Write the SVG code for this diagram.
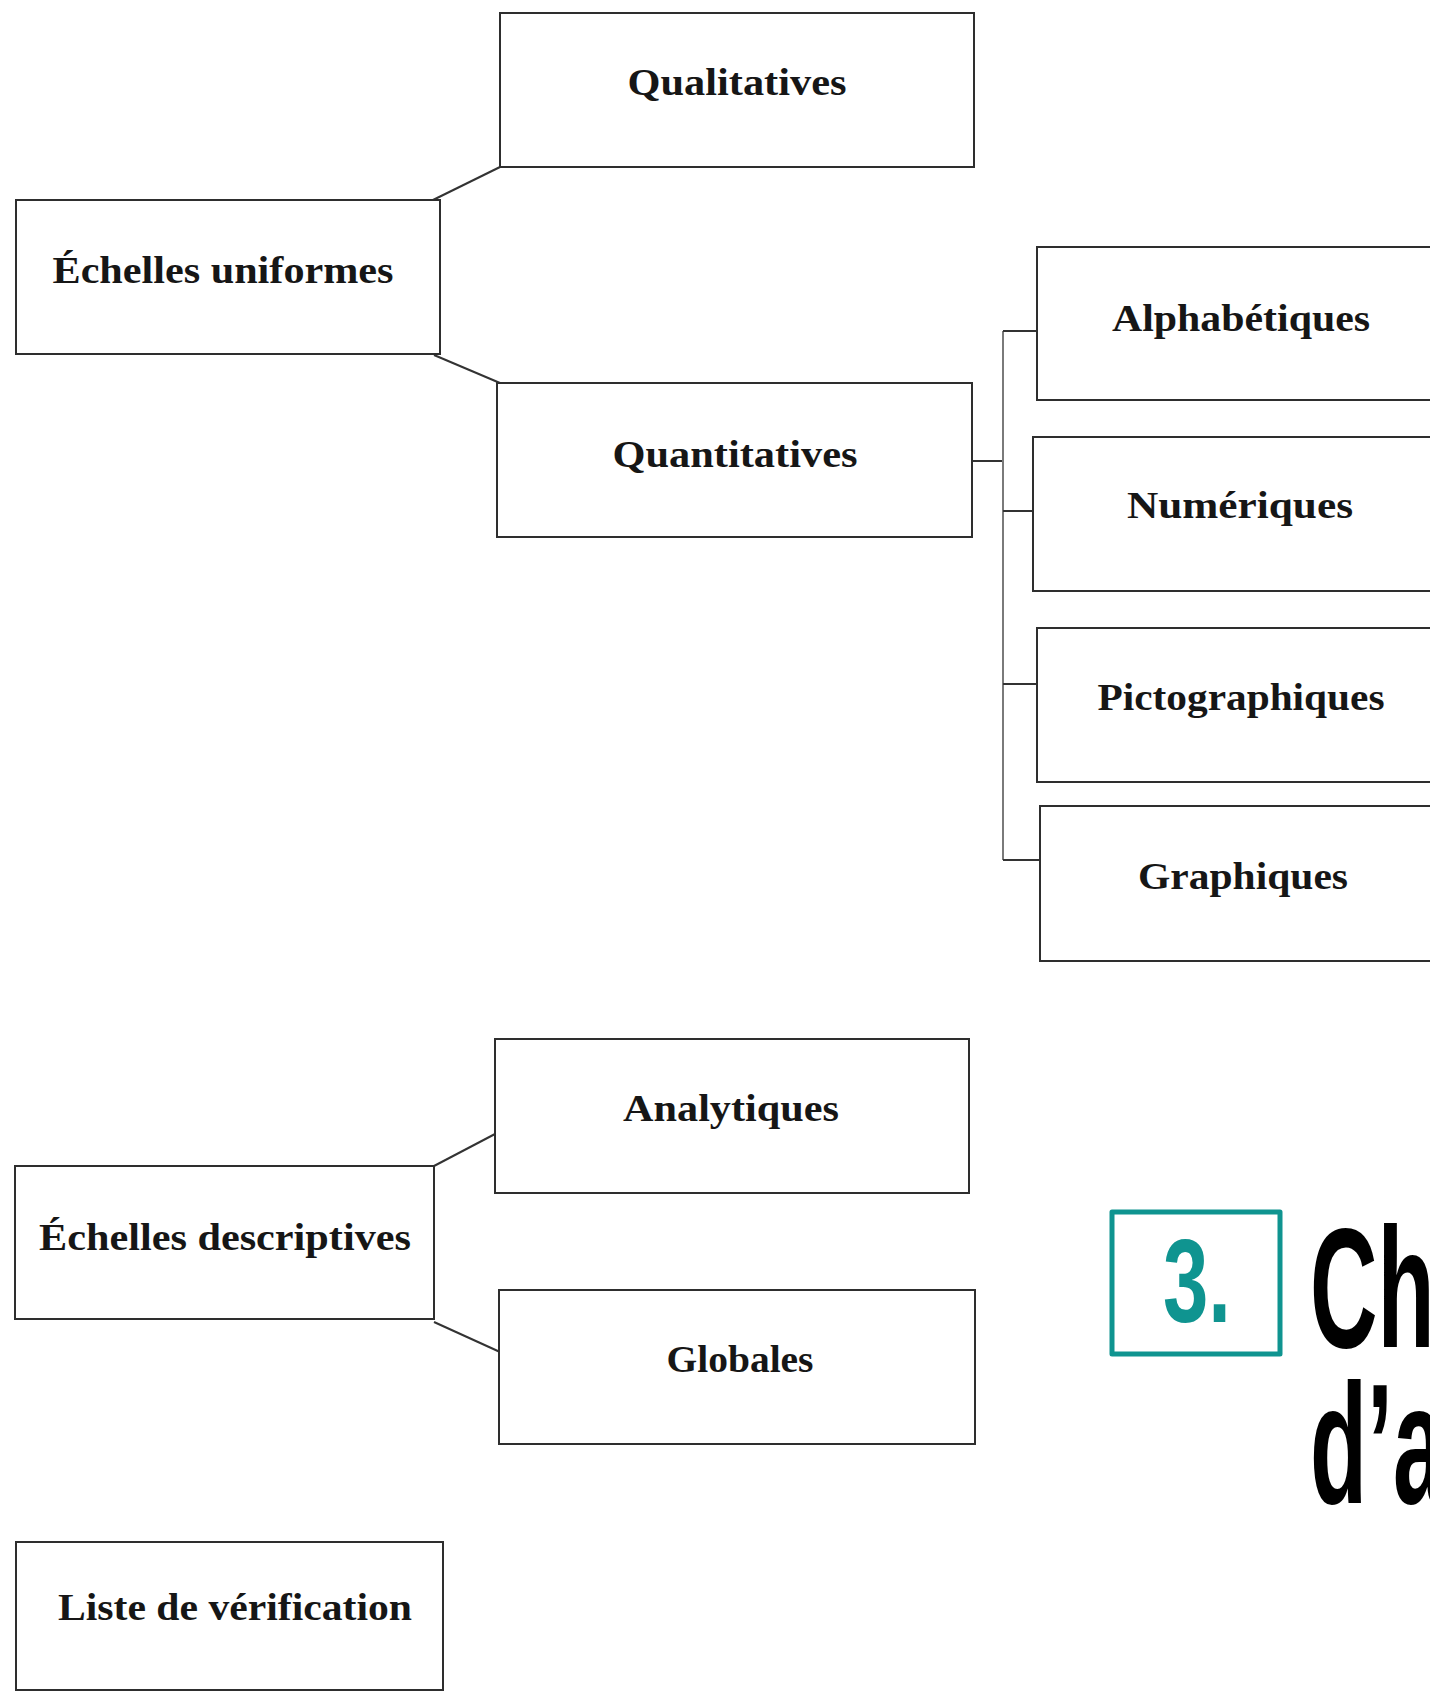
<svg xmlns="http://www.w3.org/2000/svg" width="1430" height="1691" viewBox="0 0 1430 1691">
<style>
.box{fill:#ffffff;stroke:#2e2e2e;stroke-width:2}
.lbl{font-family:"Liberation Serif","Times New Roman",serif;font-weight:bold;font-size:37px;fill:#161616;text-anchor:middle}
.con{fill:none;stroke:#333333;stroke-width:2}
.bus{fill:none;stroke:#7a7a7a;stroke-width:2}
.badge{fill:none;stroke:#0f9490;stroke-width:5;stroke-linejoin:round}
.num{font-family:"Liberation Sans",Arial,sans-serif;font-weight:bold;font-size:118px;fill:#0f9490}
.head{font-family:"Liberation Sans",Arial,sans-serif;font-weight:bold;font-size:170px;fill:#000000}
</style>
<rect width="1430" height="1691" fill="#ffffff"/>
<g id="connectors">
<path class="con" d="M433,200 L500,167"/>
<path class="con" d="M434,355 L500,383"/>
<path class="con" d="M972,461 L1003,461"/>
<path class="bus" d="M1003,331 L1003,860"/>
<path class="con" d="M1003,331 L1040,331"/>
<path class="con" d="M1003,511 L1033,511"/>
<path class="con" d="M1003,684 L1037,684"/>
<path class="con" d="M1003,860 L1040,860"/>
<path class="con" d="M434,1166 L495,1134"/>
<path class="con" d="M434,1322 L500,1352"/>
</g>
<g id="n-qualitatives"><rect class="box" x="500" y="13" width="474" height="154"/><text class="lbl" x="737" y="95" textLength="219" lengthAdjust="spacingAndGlyphs">Qualitatives</text></g>
<g id="n-echelles-uniformes"><rect class="box" x="16" y="200" width="424" height="154"/><text class="lbl" x="223" y="283" textLength="341" lengthAdjust="spacingAndGlyphs">Échelles uniformes</text></g>
<g id="n-quantitatives"><rect class="box" x="497" y="383" width="475" height="154"/><text class="lbl" x="735" y="467" textLength="245" lengthAdjust="spacingAndGlyphs">Quantitatives</text></g>
<g id="n-alphabetiques"><rect class="box" x="1037" y="247" width="400" height="153"/><text class="lbl" x="1241" y="331" textLength="258" lengthAdjust="spacingAndGlyphs">Alphabétiques</text></g>
<g id="n-numeriques"><rect class="box" x="1033" y="437" width="404" height="154"/><text class="lbl" x="1240" y="518" textLength="226" lengthAdjust="spacingAndGlyphs">Numériques</text></g>
<g id="n-pictographiques"><rect class="box" x="1037" y="628" width="400" height="154"/><text class="lbl" x="1241" y="710" textLength="287" lengthAdjust="spacingAndGlyphs">Pictographiques</text></g>
<g id="n-graphiques"><rect class="box" x="1040" y="806" width="397" height="155"/><text class="lbl" x="1243" y="889" textLength="210" lengthAdjust="spacingAndGlyphs">Graphiques</text></g>
<g id="n-analytiques"><rect class="box" x="495" y="1039" width="474" height="154"/><text class="lbl" x="731" y="1121" textLength="216" lengthAdjust="spacingAndGlyphs">Analytiques</text></g>
<g id="n-echelles-descriptives"><rect class="box" x="15" y="1166" width="419" height="153"/><text class="lbl" x="225" y="1250" textLength="372" lengthAdjust="spacingAndGlyphs">Échelles descriptives</text></g>
<g id="n-globales"><rect class="box" x="499" y="1290" width="476" height="154"/><text class="lbl" x="740" y="1372" textLength="147" lengthAdjust="spacingAndGlyphs">Globales</text></g>
<g id="n-liste"><rect class="box" x="16" y="1542" width="427" height="148"/><text class="lbl" x="235" y="1620" textLength="354" lengthAdjust="spacingAndGlyphs">Liste de vérification</text></g>
<g id="title">
<rect class="badge" x="1112" y="1212" width="168" height="142"/>
<text class="num" x="1163" y="1322" textLength="68" lengthAdjust="spacingAndGlyphs">3.</text>
<text class="head" transform="translate(1310,1347) scale(0.55,1)">Ch</text>
<text class="head" transform="translate(1310,1503) scale(0.55,1)">d’a</text>
</g>
</svg>
